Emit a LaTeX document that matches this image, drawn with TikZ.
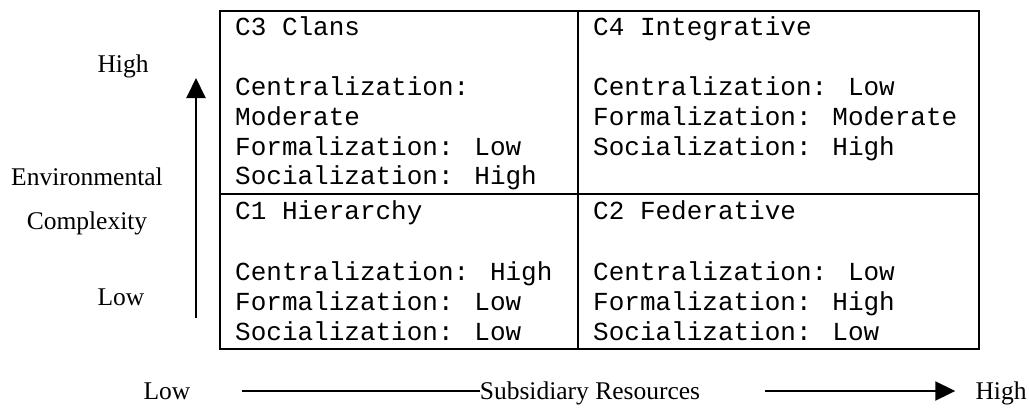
\documentclass[tikz,border=0pt]{standalone}
\usepackage{fontspec}
\setmainfont{Liberation Serif}
\newfontfamily\monof{Liberation Mono}
\usetikzlibrary{arrows.meta}
\begin{document}
\begin{tikzpicture}[x=1pt,y=-1pt,
  cell/.style={draw,line width=1.8pt,anchor=north west,inner sep=0pt},
  mono/.style={font=\monof\fontsize{26}{30}\selectfont,anchor=base west,inner sep=0pt},
  lbl/.style={font=\fontsize{25.5}{30}\selectfont,anchor=base,inner sep=0pt},
  axis/.style={line width=2pt},
  tip/.style={-{Triangle[length=20pt,width=19pt]}}]
\useasboundingbox (0,0) rectangle (1029,408);
% cells
\node[cell,minimum width=358pt,minimum height=183pt] (c3) at (219,10) {};
\node[cell,minimum width=401pt,minimum height=183pt] (c4) at (577,10) {};
\node[cell,minimum width=358pt,minimum height=155pt] (c1) at (219,193) {};
\node[cell,minimum width=401pt,minimum height=155pt] (c2) at (577,193) {};
% C3
\node[mono] (c3t) at (235,35) {C3 Clans};
\node[mono] (c3a) at (235,95) {Centralization:};
\node[mono] (c3b) at (235,125) {Moderate};
\node[mono] (c3c) at (235,155) {Formalization: Low};
\node[mono] (c3d) at (235,184) {Socialization: High};
% C4
\node[mono] (c4t) at (593,35) {C4 Integrative};
\node[mono] (c4a) at (593,95) {Centralization: Low};
\node[mono] (c4b) at (593,125) {Formalization: Moderate};
\node[mono] (c4c) at (593,155) {Socialization: High};
% C1
\node[mono] (c1t) at (235,219) {C1 Hierarchy};
\node[mono] (c1a) at (235,280) {Centralization: High};
\node[mono] (c1b) at (235,310) {Formalization: Low};
\node[mono] (c1c) at (235,340) {Socialization: Low};
% C2
\node[mono] (c2t) at (593,219) {C2 Federative};
\node[mono] (c2a) at (593,280) {Centralization: Low};
\node[mono] (c2b) at (593,310) {Formalization: High};
\node[mono] (c2c) at (593,340) {Socialization: Low};
% vertical axis
\node[lbl] (yhigh) at (123,72) {High};
\node[lbl] (yenv) at (87,185) {Environmental};
\node[lbl] (ycomp) at (87,229) {Complexity};
\node[lbl] (ylow) at (121,305) {Low};
\coordinate (v0) at (196,318);
\coordinate (v1) at (196,78);
\draw[axis,tip] (v0) -- (v1);
% horizontal axis
\node[lbl] (xlow) at (167,399) {Low};
\node[lbl] (xsub) at (590,399) {Subsidiary Resources};
\node[lbl] (xhigh) at (1001,399) {High};
\coordinate (h0) at (242,391);
\coordinate (h2) at (765,391);
\draw[axis] (h0) -- (h0 -| xsub.west);
\draw[axis,tip,shorten >=20pt] (h2) -- (h2 -| xhigh.west);
\end{tikzpicture}
\end{document}
